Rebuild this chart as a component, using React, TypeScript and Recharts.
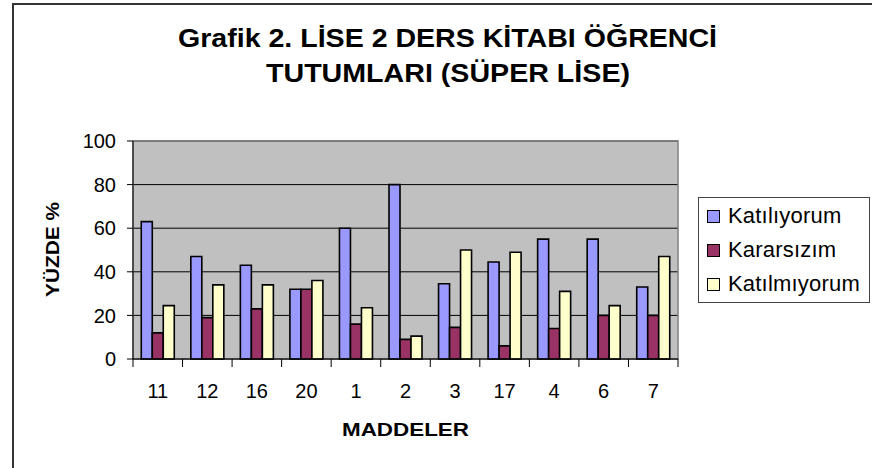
import React from 'react';
import {
  BarChart,
  Bar,
  XAxis,
  YAxis,
  CartesianGrid,
  Legend,
  ReferenceArea,
} from 'recharts';

const categories = ['11', '12', '16', '20', '1', '2', '3', '17', '4', '6', '7'];
const katiliyorum = [63, 47, 43, 32, 60, 80, 34.5, 44.5, 55, 55, 33];
const kararsizim = [12, 19, 23, 32, 16, 9, 14.5, 6, 14, 20, 20];
const katilmiyorum = [24.5, 34, 34, 36, 23.5, 10.5, 50, 49, 31, 24.5, 47];
const yTicks = [0, 20, 40, 60, 80, 100];

const seriesNames = ['Katılıyorum', 'Kararsızım', 'Katılmıyorum'];
const seriesColors = ['#9999FF', '#993366', '#FFFFCC'];

const data = categories.map((name, i) => ({
  name,
  katiliyorum: katiliyorum[i],
  kararsizim: kararsizim[i],
  katilmiyorum: katilmiyorum[i],
}));

const FONT = '"Liberation Sans", Arial, sans-serif';

// Excel style: label in the middle of the band, tick mark on the band edges
function CategoryTick(props: any) {
  const { x, y, payload, index, visibleTicksCount } = props;
  const half = payload.offset || 0;
  const left = x - half;
  const right = x + half;
  const top = y - 8;
  return (
    <g>
      <line x1={left} y1={top} x2={left} y2={top + 8} stroke="#000" />
      {index === visibleTicksCount - 1 && (
        <line x1={right} y1={top} x2={right} y2={top + 8} stroke="#000" />
      )}
      <text
        x={x}
        y={top + 39}
        textAnchor="middle"
        fontSize={20}
        fontFamily={FONT}
        fill="#000"
      >
        {payload.value}
      </text>
    </g>
  );
}

function renderLegend() {
  return (
    <div
      style={{
        width: 172,
        height: 106,
        border: '1px solid #444',
        background: '#fff',
        boxSizing: 'border-box',
        paddingTop: 1,
        fontFamily: FONT,
      }}
    >
      {seriesNames.map((name, i) => (
        <div
          key={name}
          style={{ display: 'flex', alignItems: 'center', height: 34, paddingLeft: 8 }}
        >
          <span
            style={{
              width: 11,
              height: 11,
              background: seriesColors[i],
              border: '1px solid #000',
              marginRight: 8,
              flex: 'none',
            }}
          />
          <span style={{ fontSize: 22, color: '#000', letterSpacing: 0.2 }}>{name}</span>
        </div>
      ))}
    </div>
  );
}

export default function App() {
  return (
    <div
      style={{
        position: 'fixed',
        left: 0,
        top: 0,
        width: 872,
        height: 468,
        background: '#fff',
        overflow: 'hidden',
        fontFamily: FONT,
      }}
    >
      <div
        style={{
          position: 'absolute',
          left: 12,
          top: 3,
          right: -4,
          bottom: -4,
          borderLeft: '2px solid #333',
          borderTop: '2px solid #333',
        }}
      />
      <svg
        width={872}
        height={100}
        style={{ position: 'absolute', left: 0, top: 0 }}
      >
        <text
          x={447.5}
          y={47}
          textAnchor="middle"
          fontSize={25}
          fontWeight="bold"
          fontFamily={FONT}
          textLength={539}
          lengthAdjust="spacingAndGlyphs"
        >
          Grafik 2. LİSE 2 DERS KİTABI ÖĞRENCİ
        </text>
        <text
          x={448}
          y={82}
          textAnchor="middle"
          fontSize={25}
          fontWeight="bold"
          fontFamily={FONT}
          textLength={364}
          lengthAdjust="spacingAndGlyphs"
        >
          TUTUMLARI (SÜPER LİSE)
        </text>
      </svg>
      <div style={{ position: 'absolute', left: 0, top: 0 }}>
        <BarChart
          width={872}
          height={468}
          data={data}
          margin={{ top: 141, right: 194, bottom: 9, left: 0 }}
          barCategoryGap="16.7%"
          barGap={0}
        >
          <CartesianGrid
            vertical={false}
            stroke="#000"
            fill="#C0C0C0"
            fillOpacity={1}
          />
          <ReferenceArea
            x1={categories[0]}
            x2={categories[categories.length - 1]}
            y1={0}
            y2={100}
            fill="none"
            stroke="#808080"
            strokeWidth={1.5}
            ifOverflow="visible"
          />
          <XAxis
            dataKey="name"
            height={100}
            interval={0}
            tickLine={false}
            axisLine={{ stroke: '#000' }}
            tick={<CategoryTick />}
            label={{
              content: () => (
                <text
                  x={405.5}
                  y={436}
                  textAnchor="middle"
                  fontSize={19}
                  fontWeight="bold"
                  fontFamily={FONT}
                  fill="#000"
                  textLength={127}
                  lengthAdjust="spacingAndGlyphs"
                >
                  MADDELER
                </text>
              ),
            }}
          />
          <YAxis
            width={133}
            domain={[0, 100]}
            ticks={yTicks}
            interval={0}
            tickSize={6}
            tickMargin={11}
            stroke="#000"
            tickLine={{ stroke: '#000' }}
            axisLine={{ stroke: '#000' }}
            tick={{ fill: '#000', fontSize: 20, fontFamily: FONT }}
            label={{
              content: () => (
                <text
                  x={59}
                  y={249.5}
                  transform="rotate(-90 59 249.5)"
                  textAnchor="middle"
                  fontSize={19}
                  fontWeight="bold"
                  fontFamily={FONT}
                  fill="#000"
                  textLength={95}
                  lengthAdjust="spacingAndGlyphs"
                >
                  YÜZDE %
                </text>
              ),
            }}
          />
          <Bar
            dataKey="katiliyorum"
            name={seriesNames[0]}
            fill={seriesColors[0]}
            stroke="#000"
            strokeWidth={1.6}
            isAnimationActive={false}
          />
          <Bar
            dataKey="kararsizim"
            name={seriesNames[1]}
            fill={seriesColors[1]}
            stroke="#000"
            strokeWidth={1.6}
            isAnimationActive={false}
          />
          <Bar
            dataKey="katilmiyorum"
            name={seriesNames[2]}
            fill={seriesColors[2]}
            stroke="#000"
            strokeWidth={1.6}
            isAnimationActive={false}
          />
          <Legend
            layout="vertical"
            align="center"
            verticalAlign="middle"
            content={renderLegend}
            wrapperStyle={{ left: 698, top: 197, width: 172, height: 106 }}
          />
        </BarChart>
      </div>
    </div>
  );
}
